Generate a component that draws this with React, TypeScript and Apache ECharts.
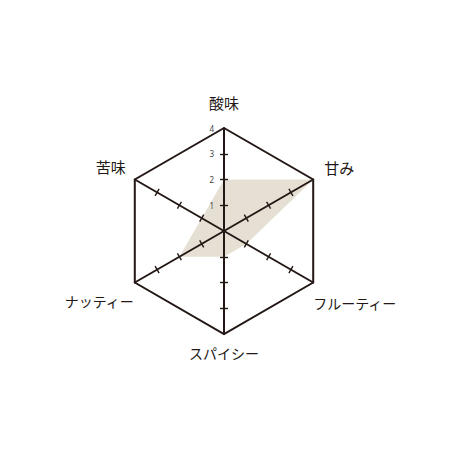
import { useEffect, useRef } from 'react';
import * as echarts from 'echarts';

// 指標（反時計回り：上から）と評価値
const INDICATORS = ['酸味', '苦味', 'ナッティー', 'スパイシー', 'フルーティー', '甘み'];
const VALUES = [2, 1, 2, 1, 1, 4];
const MAX_VALUE = 4;

const INK = '#231815';
const FILL = '#e6e0d4';
const CENTER = [224, 231];
const RADIUS = 103;

// 指標名の位置調整 [top, right, bottom, left]
const NAME_PADDING: number[][] = [
  [0, 0, 18, 0],
  [0, 9, 26, 0],
  [36, 1, 0, 0],
  [12, 0, 0, 0],
  [40, 0, 0, 0],
  [0, 0, 24, 11],
];
// 漢字は少し大きめ、カタカナは詰まって見えるので小さめ
const NAME_FONT_SIZE = [15, 15, 14, 14, 14, 15];

const nameRich: Record<string, object> = {};
NAME_PADDING.forEach((padding, i) => {
  nameRich['k' + i] = {
    padding,
    color: INK,
    fontSize: NAME_FONT_SIZE[i],
    fontFamily: 'Noto Sans CJK JP',
  };
});

/** 目盛り用のレーダー（片側だけの短い線を描く） */
function tickRadar(length: number) {
  return {
    center: CENTER,
    radius: RADIUS,
    startAngle: 90,
    shape: 'polygon',
    splitNumber: 1,
    z: 3,
    indicator: INDICATORS.map((name) => ({
      name,
      min: 0,
      max: MAX_VALUE,
      minorTick: { show: true, splitNumber: 4, length, lineStyle: { color: INK, width: 1.4 } },
    })),
    axisName: { show: false },
    splitLine: { show: false },
    splitArea: { show: false },
    axisLine: { show: false },
    axisTick: { show: false },
    axisLabel: { show: false },
  };
}

export default function App() {
  const ref = useRef<HTMLDivElement>(null);

  useEffect(() => {
    document.body.style.margin = '0';
    if (!ref.current) return;
    const chart = echarts.init(ref.current, undefined, { renderer: 'svg' });

    const option = {
      animation: false,
      backgroundColor: '#ffffff',
      radar: [
        {
          center: CENTER,
          radius: RADIUS,
          startAngle: 90,
          shape: 'polygon',
          splitNumber: 4,
          nameGap: 0,
          z: 3,
          indicator: INDICATORS.map((name, i) => ({
            name,
            min: 0,
            max: MAX_VALUE,
            axisLabel: { show: i === 0 },
          })),
          axisName: {
            color: INK,
            fontSize: 15,
            fontFamily: 'Noto Sans CJK JP',
            formatter: (name: string) => `{k${INDICATORS.indexOf(name)}|${name}}`,
            rich: nameRich,
          },
          splitLine: {
            lineStyle: { color: ['none', 'none', 'none', 'none', INK], width: 2 },
          },
          splitArea: { show: false },
          axisLine: { lineStyle: { color: INK, width: 2 } },
          axisTick: { show: false },
          axisLabel: {
            show: true,
            showMinLabel: false,
            fontSize: 8,
            color: '#444',
            margin: 10,
            fontFamily: 'Noto Sans',
          },
        },
        tickRadar(4),
        tickRadar(-4),
      ],
      series: [
        {
          type: 'radar',
          radarIndex: 0,
          z: 1,
          symbol: 'none',
          lineStyle: { width: 0 },
          areaStyle: { color: FILL, opacity: 1 },
          data: [{ value: VALUES, name: '評価' }],
        },
      ],
    };

    chart.setOption(option as echarts.EChartsOption);
    return () => chart.dispose();
  }, []);

  return <div ref={ref} style={{ width: '460px', height: '460px' }} />;
}
